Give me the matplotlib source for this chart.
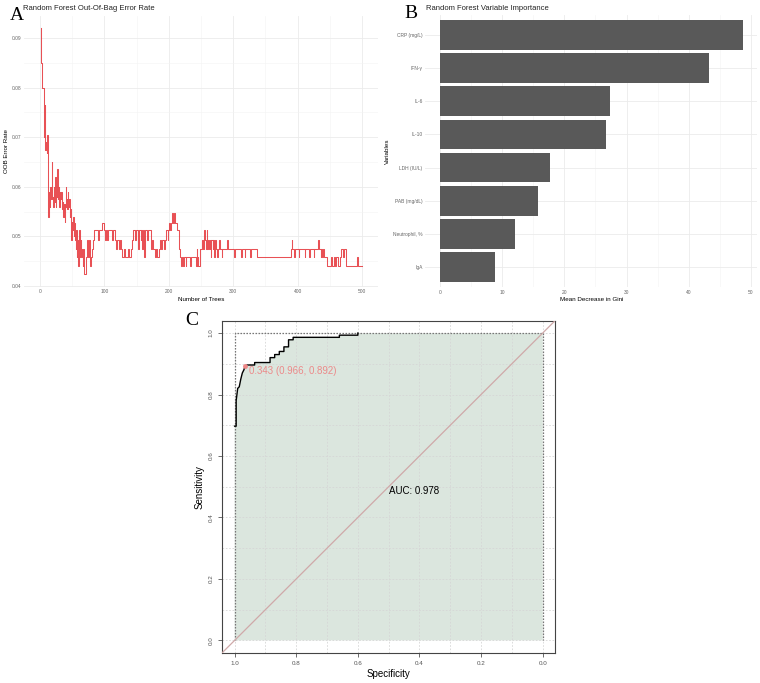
import matplotlib.pyplot as plt
import numpy as np

plt.rcParams['font.family'] = ['Liberation Sans', 'DejaVu Sans']

# ---- panel A: OOB error rate (breakpoints, drawn as steps) ----
oob_trees = [1, 2, 3, 6, 7, 8, 9, 10, 11, 12, 13, 14, 15, 16, 17, 18, 19, 20,
             21, 22, 23, 24, 25, 26, 27, 28, 29, 30, 31, 32, 33, 34, 35, 36, 37,
             38, 39, 40, 41, 42, 43, 44, 45, 46, 47, 48, 49, 50, 51, 52, 53, 54,
             55, 56, 57, 58, 59, 60, 61, 62, 63, 64, 65, 66, 67, 68, 72, 73, 75,
             76, 77, 78, 79, 80, 82, 84, 90, 91, 96, 100, 101, 103, 104, 106, 112,
             114, 116, 118, 120, 122, 124, 126, 128, 131, 132, 136, 138, 141, 143,
             145, 147, 149, 152, 153, 156, 157, 159, 160, 162, 163, 166, 167, 172,
             174, 176, 178, 180, 182, 184, 186, 188, 190, 192, 194, 196, 198, 199,
             201, 202, 203, 205, 206, 208, 210, 213, 216, 218, 219, 221, 222, 223,
             226, 227, 233, 234, 242, 243, 244, 245, 246, 248, 249, 251, 253, 255,
             256, 258, 259, 260, 261, 262, 264, 265, 266, 268, 269, 270, 271, 273,
             275, 276, 278, 280, 282, 283, 290, 292, 302, 303, 312, 313, 318, 319,
             326, 327, 337, 390, 391, 392, 395, 396, 402, 403, 411, 412, 418, 419,
             425, 426, 432, 434, 436, 437, 438, 440, 441, 445, 452, 453, 456, 458,
             460, 463, 466, 468, 471, 472, 476, 493, 494, 500]
oob_error = [0.0920, 0.0850, 0.0800, 0.0700, 0.0765, 0.0675, 0.0690, 0.0668,
             0.0705, 0.0655, 0.0540, 0.0590, 0.0560, 0.0600, 0.0575, 0.0650,
             0.0580, 0.0560, 0.0600, 0.0570, 0.0620, 0.0560, 0.0600, 0.0580,
             0.0635, 0.0575, 0.0600, 0.0560, 0.0590, 0.0575, 0.0590, 0.0555,
             0.0570, 0.0540, 0.0565, 0.0530, 0.0560, 0.0600, 0.0575, 0.0555,
             0.0590, 0.0560, 0.0575, 0.0540, 0.0555, 0.0493, 0.0530, 0.0512,
             0.0540, 0.0500, 0.0528, 0.0493, 0.0475, 0.0512, 0.0459, 0.0493,
             0.0441, 0.0475, 0.0512, 0.0459, 0.0493, 0.0475, 0.0459, 0.0441,
             0.0475, 0.0424, 0.0459, 0.0493, 0.0459, 0.0493, 0.0475, 0.0441,
             0.0459, 0.0475, 0.0493, 0.0512, 0.0493, 0.0512, 0.0528, 0.0512,
             0.0493, 0.0512, 0.0493, 0.0512, 0.0493, 0.0512, 0.0493, 0.0475,
             0.0493, 0.0475, 0.0493, 0.0475, 0.0459, 0.0475, 0.0459, 0.0475,
             0.0459, 0.0475, 0.0493, 0.0512, 0.0493, 0.0512, 0.0475, 0.0512,
             0.0493, 0.0512, 0.0475, 0.0512, 0.0459, 0.0512, 0.0493, 0.0512,
             0.0475, 0.0493, 0.0475, 0.0459, 0.0475, 0.0459, 0.0475, 0.0493,
             0.0475, 0.0493, 0.0475, 0.0493, 0.0512, 0.0493, 0.0512, 0.0528,
             0.0512, 0.0528, 0.0547, 0.0528, 0.0547, 0.0528, 0.0512, 0.0475,
             0.0459, 0.0441, 0.0459, 0.0441, 0.0459, 0.0441, 0.0459, 0.0441,
             0.0459, 0.0441, 0.0475, 0.0441, 0.0459, 0.0441, 0.0459, 0.0475,
             0.0493, 0.0475, 0.0512, 0.0493, 0.0475, 0.0512, 0.0475, 0.0493,
             0.0475, 0.0493, 0.0459, 0.0493, 0.0475, 0.0493, 0.0459, 0.0493,
             0.0475, 0.0459, 0.0475, 0.0493, 0.0475, 0.0459, 0.0475, 0.0493,
             0.0475, 0.0459, 0.0475, 0.0459, 0.0475, 0.0459, 0.0475, 0.0459,
             0.0475, 0.0459, 0.0475, 0.0493, 0.0475, 0.0459, 0.0475, 0.0459,
             0.0475, 0.0459, 0.0475, 0.0459, 0.0475, 0.0459, 0.0475, 0.0493,
             0.0475, 0.0459, 0.0475, 0.0459, 0.0475, 0.0459, 0.0441, 0.0459,
             0.0441, 0.0459, 0.0441, 0.0459, 0.0441, 0.0459, 0.0475, 0.0459,
             0.0475, 0.0441, 0.0459, 0.0441, 0.0441]

# ---- panel B: variable importance ----
variables = ["CRP (mg/L)", "IFN-γ", "IL-6", "IL-10", "LDH (IU/L)",
             "PAB (mg/dL)", "Neutrophil, %", "IgA"]
gini = [48.7, 43.3, 27.3, 26.7, 17.7, 15.7, 12.0, 8.75]

# ---- panel C: ROC curve ----
roc_spec = [1.0, 0.995, 0.995, 0.99, 0.985, 0.98, 0.975, 0.97, 0.966, 0.96,
            0.935, 0.935, 0.885, 0.885, 0.87, 0.87, 0.855, 0.855, 0.84, 0.84,
            0.825, 0.825, 0.81, 0.81, 0.66, 0.66, 0.6, 0.6]
roc_sens = [0.697, 0.697, 0.78, 0.82, 0.825, 0.85, 0.87, 0.88, 0.892, 0.896,
            0.896, 0.904, 0.904, 0.92, 0.92, 0.93, 0.93, 0.94, 0.94, 0.955,
            0.955, 0.978, 0.978, 0.986, 0.986, 0.993, 0.993, 1.0]
best_thr, best_spec, best_sens = 0.343, 0.966, 0.892
auc = 0.978

fig = plt.figure(figsize=(7.6, 6.83), dpi=100)

grid_col = "#ebebeb"
tick_col = "#666666"

# ---------------- A ----------------
axA = fig.add_axes([0.0316, 0.5805, 0.4658, 0.3965])
axA.step(oob_trees, oob_error, where="post", color="#e3262b", lw=0.75, alpha=0.8)
axA.set_xlim(-25, 525)
axA.set_ylim(0.0399, 0.0945)
axA.set_xticks([0, 100, 200, 300, 400, 500])
axA.set_xticks([50, 150, 250, 350, 450], minor=True)
axA.set_yticks([0.04, 0.05, 0.06, 0.07, 0.08, 0.09])
axA.set_yticks([0.045, 0.055, 0.065, 0.075, 0.085], minor=True)
axA.set_yticklabels(["0.04", "0.05", "0.06", "0.07", "0.08", "0.09"])
axA.set_xlabel("Number of Trees", fontsize=4.5, labelpad=2)
axA.set_ylabel("OOB Error Rate", fontsize=4.5, labelpad=2)

# ---------------- B ----------------
axB = fig.add_axes([0.5595, 0.580, 0.4372, 0.3978])
ypos = np.arange(len(variables))[::-1] + 1
axB.barh(ypos, gini, height=0.9, color="#595959", zorder=2)
axB.set_xlim(-2.43, 51.1)
axB.set_ylim(0.4, 8.6)
axB.set_yticks(ypos)
axB.set_yticklabels(variables)
axB.set_xticks([0, 10, 20, 30, 40, 50])
axB.set_xticks([5, 15, 25, 35, 45], minor=True)
axB.set_xlabel("Mean Decrease in Gini", fontsize=4.5, labelpad=2)
axB.set_ylabel("Variables", fontsize=4.5, labelpad=2)

for ax in (axA, axB):
    for s in ax.spines.values():
        s.set_visible(False)
    ax.grid(True, which="major", color=grid_col, lw=0.6, zorder=0)
    ax.grid(True, which="minor", color="#f3f3f3", lw=0.4, zorder=0)
    ax.set_axisbelow(True)
    ax.tick_params(which="both", length=0, labelsize=3.5, colors=tick_col, pad=2)

axA.set_title("Random Forest Out-Of-Bag Error Rate", fontsize=5.5, loc="left",
              x=-0.002, pad=4, color="#222222")
axB.set_title("Random Forest Variable Importance", fontsize=5.5, loc="left",
              x=0.002, pad=4, color="#222222")

# ---------------- C ----------------
axC = fig.add_axes([0.2925, 0.0444, 0.4378, 0.486])
axC.set_xlim(1.04, -0.04)
axC.set_ylim(-0.04, 1.04)
fill_x = [1.0] + roc_spec + [0.0, 0.0]
fill_y = [0.0] + roc_sens + [1.0, 0.0]
axC.fill(fill_x, fill_y, color="#dbe6de", lw=0, zorder=1)
for g in np.arange(0, 1.01, 0.1):
    axC.axvline(g, color="#d6d6d6", lw=0.6, ls=(0, (2, 2)), zorder=2)
    axC.axhline(g, color="#d6d6d6", lw=0.6, ls=(0, (2, 2)), zorder=2)
axC.plot([1.0, 1.0, 0.0, 0.0], [0.0, 1.0, 1.0, 0.0], color="#777777",
         lw=0.9, ls=(0, (1.2, 1.2)), zorder=3)
axC.plot([1.04, -0.04], [-0.04, 1.04], color="#cfa9a9", lw=0.9, zorder=3)
axC.plot(roc_spec, roc_sens, color="black", lw=1.0, zorder=4)
axC.plot([best_spec], [best_sens], "o", color="#ee8888", ms=2.5, zorder=5)
axC.text(best_spec - 0.013, best_sens - 0.016,
         f"{best_thr:.3f} ({best_spec:.3f}, {best_sens:.3f})",
         color="#ec8a8a", fontsize=7, ha="left", va="center", zorder=5)
axC.text(0.5, 0.485, f"AUC: {auc:.3f}", fontsize=7, ha="left", va="center",
         zorder=5)
ticks = [1.0, 0.8, 0.6, 0.4, 0.2, 0.0]
axC.set_xticks(ticks)
axC.set_xticklabels([f"{t:.1f}" for t in ticks])
axC.set_yticks(ticks)
axC.set_yticklabels([f"{t:.1f}" for t in ticks], rotation=90, va="center")
axC.tick_params(labelsize=4.5, colors="#555555", length=3, width=0.6, pad=3)
for s in axC.spines.values():
    s.set_color("#444444")
    s.set_linewidth(0.8)
axC.set_xlabel("Specificity", fontsize=7, labelpad=2)
axC.set_ylabel("Sensitivity", fontsize=7, labelpad=3)

# panel letters
fig.text(0.013, 0.978, "A", family="Liberation Serif", fontsize=14, va="center")
fig.text(0.532, 0.980, "B", family="Liberation Serif", fontsize=14, va="center")
fig.text(0.244, 0.531, "C", family="Liberation Serif", fontsize=14, va="center")

fig.savefig("out.png", dpi=100)
